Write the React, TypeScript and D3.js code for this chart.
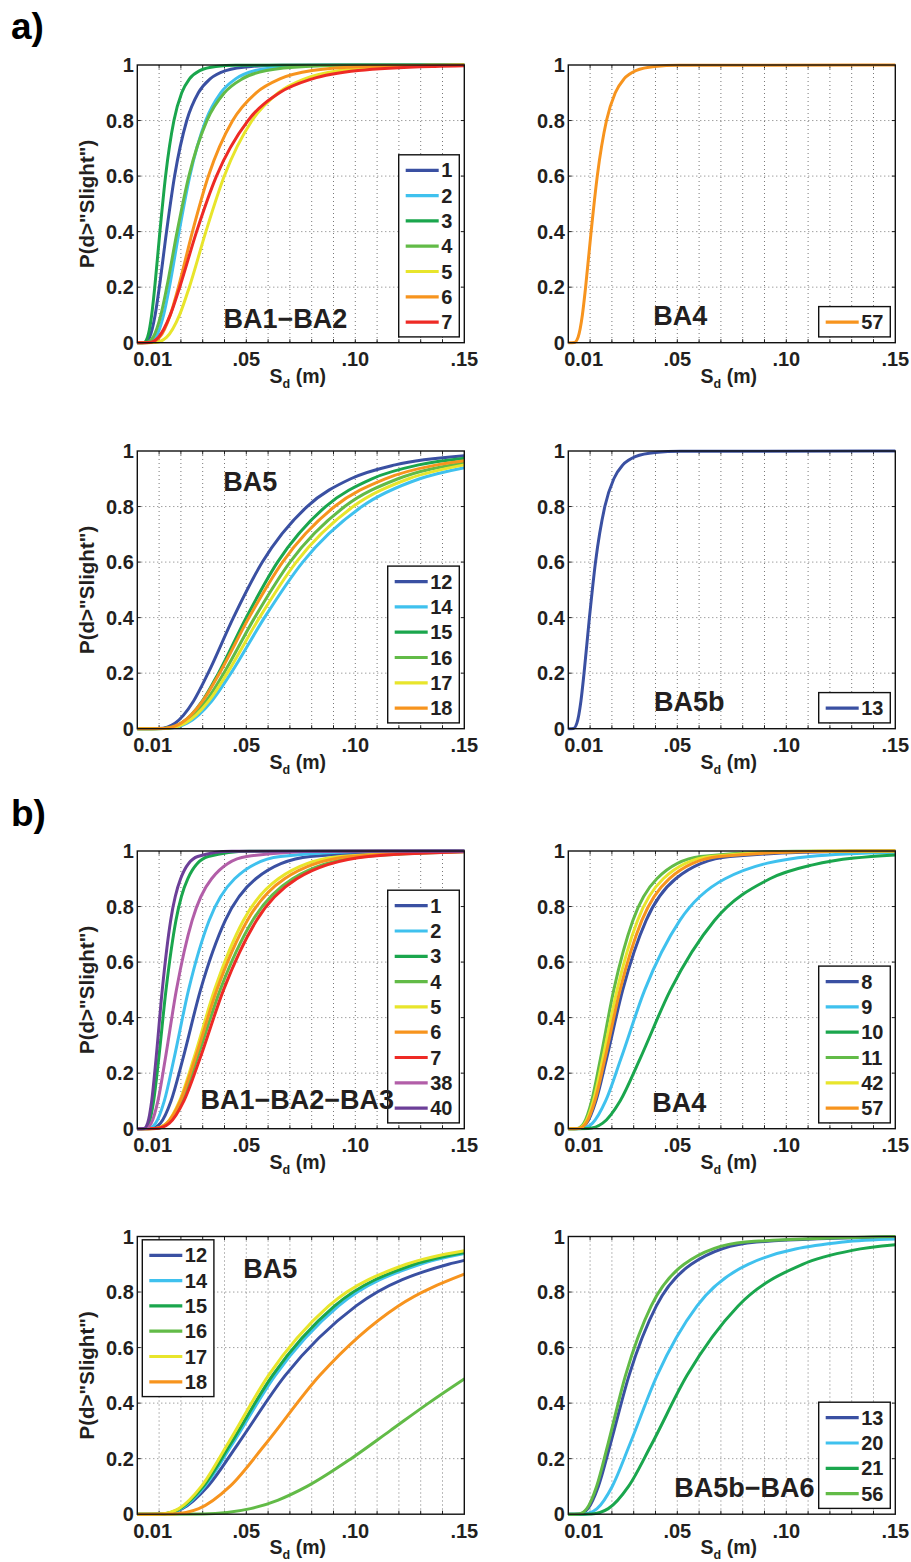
import React from "react";
import * as d3 from "d3";

type Pt = [number, number];

// ---------- colours by curve id ----------
const COLORS: Record<string, string> = {
  "1": "#3a50a2", "8": "#3a50a2", "12": "#3a50a2", "13": "#3a50a2",
  "2": "#3fc1ee", "9": "#3fc1ee", "14": "#3fc1ee", "20": "#3fc1ee",
  "3": "#1aa64d", "10": "#1aa64d", "15": "#1aa64d", "21": "#1aa64d",
  "4": "#62bb47", "11": "#62bb47", "16": "#62bb47", "56": "#62bb47",
  "5": "#e8e52b", "17": "#e8e52b", "42": "#e8e52b",
  "6": "#f7941e", "18": "#f7941e", "57": "#f7941e",
  "7": "#ee2a25",
  "38": "#b25ea8",
  "40": "#6c3f98",
};

// ---------- data (Sd [m], P) ----------
// a) BA1-BA2
const a1Ids = ["1", "2", "3", "4", "5", "6", "7"];
const a1Data: Pt[][] = [
  [[0, 0], [0.00344, 0.001], [0.00565, 0.02], [0.00819, 0.1], [0.01011, 0.2], [0.01341, 0.4], [0.01711, 0.6], [0.02269, 0.8], [0.02801, 0.9], [0.03337, 0.95], [0.0406, 0.98], [0.0522, 0.995], [0.0667, 0.999], [0.15, 1]],
  [[0, 0], [0.00535, 0.001], [0.00853, 0.02], [0.01207, 0.1], [0.01472, 0.2], [0.01918, 0.4], [0.02409, 0.6], [0.03139, 0.8], [0.03826, 0.9], [0.04506, 0.95], [0.05417, 0.98], [0.06851, 0.995], [0.08633, 0.999], [0.15, 1]],
  [[0, 0], [0.00298, 0.001], [0.0047, 0.02], [0.0066, 0.1], [0.00801, 0.2], [0.01037, 0.4], [0.01297, 0.6], [0.0168, 0.8], [0.02038, 0.9], [0.02392, 0.95], [0.02863, 0.98], [0.03603, 0.995], [0.04517, 0.999], [0.15, 1]],
  [[0, 0], [0.0043, 0.001], [0.00729, 0.02], [0.01081, 0.1], [0.01353, 0.2], [0.01827, 0.4], [0.02365, 0.6], [0.03193, 0.8], [0.03996, 0.9], [0.0481, 0.95], [0.05925, 0.98], [0.0773, 0.995], [0.1005, 0.999], [0.15, 1]],
  [[0, 0], [0.0083, 0.001], [0.01349, 0.02], [0.0194, 0.1], [0.02386, 0.2], [0.03146, 0.4], [0.03991, 0.6], [0.05264, 0.8], [0.06472, 0.9], [0.07677, 0.95], [0.09306, 0.98], [0.119, 0.995], [0.15, 0.999]],
  [[0, 0], [0.00613, 0.001], [0.01029, 0.02], [0.01513, 0.1], [0.01886, 0.2], [0.02531, 0.4], [0.03261, 0.6], [0.04375, 0.8], [0.05452, 0.9], [0.06538, 0.95], [0.08021, 0.98], [0.10414, 0.995], [0.13465, 0.999], [0.15, 1]],
  [[0, 0], [0.0054, 0.001], [0.00974, 0.02], [0.01513, 0.1], [0.01946, 0.2], [0.0272, 0.4], [0.03631, 0.6], [0.05078, 0.8], [0.06525, 0.9], [0.08026, 0.95], [0.10134, 0.98], [0.13643, 0.995], [0.15, 0.997]],
];

// a) BA4
const a2Ids = ["57"];
const a2Data: Pt[][] = [
  [[0, 0], [0.00276, 0.001], [0.00449, 0.02], [0.00646, 0.1], [0.00794, 0.2], [0.01047, 0.4], [0.01329, 0.6], [0.01752, 0.8], [0.02155, 0.9], [0.02556, 0.95], [0.03097, 0.98], [0.0396, 0.995], [0.0504, 0.999], [0.15, 1]],
];

// a) BA5
const a3Ids = ["12", "14", "15", "16", "17", "18"];
const a3Data: Pt[][] = [
  [[0, 0], [0.01008, 0.001], [0.01728, 0.02], [0.02583, 0.1], [0.03247, 0.2], [0.04408, 0.4], [0.05737, 0.6], [0.07789, 0.8], [0.09792, 0.9], [0.1183, 0.95], [0.15, 0.983]],
  [[0, 0], [0.01334, 0.001], [0.02287, 0.02], [0.03417, 0.1], [0.04296, 0.2], [0.05833, 0.4], [0.07588, 0.6], [0.10304, 0.8], [0.12955, 0.9], [0.15, 0.94]],
  [[0, 0], [0.01209, 0.001], [0.0203, 0.02], [0.02987, 0.1], [0.03723, 0.2], [0.04995, 0.4], [0.06434, 0.6], [0.08636, 0.8], [0.10762, 0.9], [0.1291, 0.95], [0.15, 0.974]],
  [[0, 0], [0.01231, 0.001], [0.02111, 0.02], [0.03155, 0.1], [0.03966, 0.2], [0.05384, 0.4], [0.07005, 0.6], [0.09513, 0.8], [0.1196, 0.9], [0.15, 0.957]],
  [[0, 0], [0.01282, 0.001], [0.02197, 0.02], [0.03283, 0.1], [0.04127, 0.2], [0.05604, 0.4], [0.07291, 0.6], [0.09903, 0.8], [0.12449, 0.9], [0.15, 0.95]],
  [[0, 0], [0.01171, 0.001], [0.02008, 0.02], [0.03001, 0.1], [0.03772, 0.2], [0.05122, 0.4], [0.06664, 0.6], [0.09049, 0.8], [0.11376, 0.9], [0.13742, 0.95], [0.15, 0.965]],
];

// a) BA5b
const a4Ids = ["13"];
const a4Data: Pt[][] = [
  [[0, 0], [0.00235, 0.001], [0.00394, 0.02], [0.0058, 0.1], [0.00722, 0.2], [0.00969, 0.4], [0.01248, 0.6], [0.01675, 0.8], [0.02088, 0.9], [0.02503, 0.95], [0.03072, 0.98], [0.03987, 0.995], [0.05156, 0.999], [0.15, 1]],
];

// b) BA1-BA2-BA3
const b1Ids = ["1", "2", "3", "4", "5", "6", "7", "38", "40"];
const b1Data: Pt[][] = [
  [[0, 0], [0.00638, 0.001], [0.0106, 0.02], [0.01548, 0.1], [0.02085, 0.25], [0.02901, 0.5], [0.04037, 0.75], [0.05436, 0.9], [0.07937, 0.98], [0.13187, 0.999], [0.15, 1]],
  [[0, 0], [0.00502, 0.001], [0.00842, 0.02], [0.01239, 0.1], [0.01678, 0.25], [0.02352, 0.5], [0.03295, 0.75], [0.04464, 0.9], [0.06568, 0.98], [0.11025, 0.999], [0.15, 1]],
  [[0, 0], [0.00338, 0.001], [0.00533, 0.02], [0.00749, 0.1], [0.00979, 0.25], [0.01317, 0.5], [0.01772, 0.75], [0.02314, 0.9], [0.03251, 0.98], [0.05128, 0.999], [0.15, 1]],
  [[0, 0], [0.00836, 0.001], [0.01389, 0.02], [0.02028, 0.1], [0.02731, 0.25], [0.03801, 0.5], [0.0529, 0.75], [0.07122, 0.9], [0.10399, 0.98], [0.15, 0.9975]],
  [[0, 0], [0.00829, 0.001], [0.01349, 0.02], [0.0194, 0.1], [0.02581, 0.25], [0.03544, 0.5], [0.04866, 0.75], [0.06472, 0.9], [0.09305, 0.98], [0.15, 0.999]],
  [[0, 0], [0.00829, 0.001], [0.01362, 0.02], [0.01974, 0.1], [0.02641, 0.25], [0.03651, 0.5], [0.05048, 0.75], [0.06755, 0.9], [0.09787, 0.98], [0.15, 0.9984]],
  [[0, 0], [0.00898, 0.001], [0.01476, 0.02], [0.02138, 0.1], [0.02862, 0.25], [0.03956, 0.5], [0.05468, 0.75], [0.07318, 0.9], [0.10602, 0.98], [0.15, 0.9973]],
  [[0, 0], [0.00383, 0.001], [0.00643, 0.02], [0.00946, 0.1], [0.01281, 0.25], [0.01795, 0.5], [0.02516, 0.75], [0.03407, 0.9], [0.05014, 0.98], [0.08417, 0.999], [0.15, 1]],
  [[0, 0], [0.00303, 0.001], [0.00473, 0.02], [0.0066, 0.1], [0.00857, 0.25], [0.01145, 0.5], [0.0153, 0.75], [0.01986, 0.9], [0.02769, 0.98], [0.04323, 0.999], [0.15, 1]],
];

// b) BA4
const b2Ids = ["8", "9", "10", "11", "42", "57"];
const b2Data: Pt[][] = [
  [[0, 0], [0.00485, 0.001], [0.00841, 0.02], [0.01266, 0.1], [0.01747, 0.25], [0.02497, 0.5], [0.0357, 0.75], [0.04925, 0.9], [0.07417, 0.98], [0.12843, 0.999], [0.15, 1]],
  [[0, 0], [0.00622, 0.001], [0.01111, 0.02], [0.01712, 0.1], [0.02405, 0.25], [0.03508, 0.5], [0.05118, 0.75], [0.07191, 0.9], [0.11082, 0.98], [0.15, 0.9953]],
  [[0, 0], [0.00912, 0.001], [0.01579, 0.02], [0.02377, 0.1], [0.03279, 0.25], [0.04689, 0.5], [0.06704, 0.75], [0.09248, 0.9], [0.11213, 0.95], [0.15, 0.9859]],
  [[0, 0], [0.00418, 0.001], [0.00717, 0.02], [0.01071, 0.1], [0.01469, 0.25], [0.02086, 0.5], [0.02962, 0.75], [0.04061, 0.9], [0.0607, 0.98], [0.10402, 0.999], [0.15, 1]],
  [[0, 0], [0.00449, 0.001], [0.00769, 0.02], [0.01149, 0.1], [0.01575, 0.25], [0.02237, 0.5], [0.03177, 0.75], [0.04356, 0.9], [0.0651, 0.98], [0.11157, 0.999], [0.15, 1]],
  [[0, 0], [0.00476, 0.001], [0.00816, 0.02], [0.0122, 0.1], [0.01673, 0.25], [0.02375, 0.5], [0.03373, 0.75], [0.04625, 0.9], [0.06912, 0.98], [0.11847, 0.999], [0.15, 1]],
];

// b) BA5
const b3Ids = ["12", "14", "15", "16", "17", "18"];
const b3Data: Pt[][] = [
  [[0, 0], [0.01131, 0.001], [0.02062, 0.02], [0.03228, 0.1], [0.0459, 0.25], [0.06788, 0.5], [0.10038, 0.75], [0.14275, 0.9], [0.15, 0.914]],
  [[0, 0], [0.01122, 0.001], [0.02004, 0.02], [0.03088, 0.1], [0.04339, 0.25], [0.06329, 0.5], [0.09234, 0.75], [0.12973, 0.9], [0.15, 0.9384]],
  [[0, 0], [0.01099, 0.001], [0.01964, 0.02], [0.03027, 0.1], [0.04253, 0.25], [0.06204, 0.5], [0.09051, 0.75], [0.12716, 0.9], [0.15, 0.9426]],
  [[0, 0], [0.03014, 0.001], [0.05192, 0.02], [0.06434, 0.05], [0.07786, 0.1], [0.09806, 0.2], [0.11588, 0.3], [0.1336, 0.4], [0.15, 0.487]],
  [[0, 0], [0.01067, 0.001], [0.01906, 0.02], [0.02937, 0.1], [0.04126, 0.25], [0.0602, 0.5], [0.08782, 0.75], [0.12338, 0.9], [0.15, 0.949]],
  [[0, 0], [0.01628, 0.001], [0.0282, 0.02], [0.04246, 0.1], [0.05857, 0.25], [0.08374, 0.5], [0.11974, 0.75], [0.15, 0.8643]],
];

// b) BA5b-BA6
const b4Ids = ["13", "20", "21", "56"];
const b4Data: Pt[][] = [
  [[0, 0], [0.0051, 0.001], [0.00901, 0.02], [0.01378, 0.1], [0.01923, 0.25], [0.02788, 0.5], [0.0404, 0.75], [0.05641, 0.9], [0.08627, 0.98], [0.15, 0.9989]],
  [[0, 0], [0.00745, 0.001], [0.01317, 0.02], [0.02014, 0.1], [0.02813, 0.25], [0.04076, 0.5], [0.05907, 0.75], [0.08249, 0.9], [0.12615, 0.98], [0.15, 0.991]],
  [[0, 0], [0.01059, 0.001], [0.01834, 0.02], [0.02762, 0.1], [0.0381, 0.25], [0.05448, 0.5], [0.07789, 0.75], [0.10745, 0.9], [0.13027, 0.95], [0.15, 0.97]],
  [[0, 0], [0.0048, 0.001], [0.00848, 0.02], [0.01297, 0.1], [0.01811, 0.25], [0.02625, 0.5], [0.03804, 0.75], [0.05312, 0.9], [0.08124, 0.98], [0.14363, 0.999], [0.15, 1]],
];

// ---------- axes ----------
const xGrid = [0.01, 0.02, 0.03, 0.04, 0.05, 0.06, 0.07, 0.08, 0.09, 0.1, 0.11, 0.12, 0.13, 0.14];
const xTickVals = [0.01, 0.05, 0.1, 0.15];
const xTickText = ["0.01", ".05", ".10", ".15"];
const yTickVals = [0, 0.2, 0.4, 0.6, 0.8, 1];
const yTickText = ["0", "0.2", "0.4", "0.6", "0.8", "1"];

// ---------- layout ----------
const PW = 327;
const PH = 277.7;
const FONT = "'Liberation Sans', Arial, Helvetica, sans-serif";
const INK = "#231f20";

type PanelCfg = {
  key: string; x: number; y: number; ids: string[]; data: Pt[][];
  title: string; tx: number; ty: number; legend: "br" | "tl"; lw: number; ylabel: boolean;
};

const panels: PanelCfg[] = [
  { key: "a1", x: 137.3, y: 65, ids: a1Ids, data: a1Data, title: "BA1\u2212BA2", tx: 148, ty: 263, legend: "br", lw: 60.6, ylabel: true },
  { key: "a2", x: 568.3, y: 65, ids: a2Ids, data: a2Data, title: "BA4", tx: 112, ty: 260, legend: "br", lw: 71.6, ylabel: false },
  { key: "a3", x: 137.3, y: 451, ids: a3Ids, data: a3Data, title: "BA5", tx: 113, ty: 39.7, legend: "br", lw: 71.6, ylabel: true },
  { key: "a4", x: 568.3, y: 451, ids: a4Ids, data: a4Data, title: "BA5b", tx: 121, ty: 259.7, legend: "br", lw: 71.6, ylabel: false },
  { key: "b1", x: 137.3, y: 851, ids: b1Ids, data: b1Data, title: "BA1\u2212BA2\u2212BA3", tx: 160, ty: 258.3, legend: "br", lw: 71.6, ylabel: true },
  { key: "b2", x: 568.3, y: 851, ids: b2Ids, data: b2Data, title: "BA4", tx: 111, ty: 260.7, legend: "br", lw: 71.6, ylabel: false },
  { key: "b3", x: 137.3, y: 1236.5, ids: b3Ids, data: b3Data, title: "BA5", tx: 133, ty: 41.5, legend: "tl", lw: 71.6, ylabel: true },
  { key: "b4", x: 568.3, y: 1236.5, ids: b4Ids, data: b4Data, title: "BA5b\u2212BA6", tx: 176, ty: 260.7, legend: "br", lw: 71.6, ylabel: false },
];

const xScale = d3.scaleLinear().domain([0, 0.15]).range([0, PW]);
const yScale = d3.scaleLinear().domain([0, 1]).range([PH, 0]);
const lineGen = d3
  .line<Pt>()
  .x((d) => xScale(d[0]))
  .y((d) => yScale(d[1]))
  .curve(d3.curveMonotoneX);

function Panel({ p }: { p: PanelCfg }) {
  const n = p.ids.length;
  const lh = n * 25.3 + 5;
  const lx = p.legend === "br" ? PW - 5 - p.lw : 5;
  const ly = p.legend === "br" ? PH - 5.8 - lh : 3.3;
  return (
    <g transform={`translate(${p.x},${p.y})`}>
      <rect x={0} y={0} width={PW} height={PH} fill="#fff" />
      {/* grid */}
      {xGrid.map((v) => (
        <line key={"gx" + v} x1={xScale(v)} x2={xScale(v)} y1={0} y2={PH}
          stroke="#555" strokeWidth={0.8} strokeDasharray="1 3" />
      ))}
      {yTickVals.slice(1, -1).map((v) => (
        <line key={"gy" + v} x1={0} x2={PW} y1={yScale(v)} y2={yScale(v)}
          stroke="#555" strokeWidth={0.8} strokeDasharray="1 3" />
      ))}
      {/* ticks */}
      {xGrid.map((v) => (
        <g key={"tx" + v}>
          <line x1={xScale(v)} x2={xScale(v)} y1={PH} y2={PH - 3.5} stroke="#222" strokeWidth={1} />
          <line x1={xScale(v)} x2={xScale(v)} y1={0} y2={3.5} stroke="#222" strokeWidth={1} />
        </g>
      ))}
      {yTickVals.slice(1, -1).map((v) => (
        <g key={"ty" + v}>
          <line x1={0} x2={3.5} y1={yScale(v)} y2={yScale(v)} stroke="#222" strokeWidth={1} />
          <line x1={PW} x2={PW - 3.5} y1={yScale(v)} y2={yScale(v)} stroke="#222" strokeWidth={1} />
        </g>
      ))}
      {/* curves */}
      <g clipPath={`url(#clip-${p.key})`}>
        {p.data.map((pts, i) => (
          <path key={p.ids[i]} d={lineGen(pts) || ""} fill="none"
            stroke={COLORS[p.ids[i]]} strokeWidth={3} strokeLinejoin="round" strokeLinecap="round" />
        ))}
      </g>
      {/* legend */}
      <g transform={`translate(${lx},${ly})`}>
        <rect x={0} y={0} width={p.lw} height={lh} fill="#fff" stroke="#111" strokeWidth={1.4} />
        {p.ids.map((id, i) => {
          const cy = 15.5 + i * 25.3;
          return (
            <g key={"lg" + id}>
              <line x1={7} x2={40} y1={cy} y2={cy} stroke={COLORS[id]} strokeWidth={3.2} />
              <text x={42.5} y={cy + 7.2} fontSize={20} fontWeight="bold" fill={INK}>{id}</text>
            </g>
          );
        })}
      </g>
      {/* panel title */}
      <text x={p.tx} y={p.ty} textAnchor="middle" fontSize={27} fontWeight="bold" fill={INK}>{p.title}</text>
      {/* frame */}
      <rect x={0} y={0} width={PW} height={PH} fill="none" stroke="#111" strokeWidth={1.4} />
      {/* tick labels */}
      {xTickVals.map((v, i) => (
        <text key={"xl" + v} x={xScale(v) + (i === 0 ? -6.5 : 0)} y={PH + 23.5} textAnchor="middle"
          fontSize={20} fontWeight="bold" fill={INK}>{xTickText[i]}</text>
      ))}
      {yTickVals.map((v, i) => (
        <text key={"yl" + v} x={-3.5} y={yScale(v) + 7.1} textAnchor="end"
          fontSize={20} fontWeight="bold" fill={INK}>{yTickText[i]}</text>
      ))}
      {/* x label */}
      <text x={PW / 2 - 3} y={PH + 40} textAnchor="middle" fontSize={19.5} fontWeight="bold" fill={INK}>
        S<tspan fontSize={12.5} dy={5}>d</tspan><tspan dy={-5}> (m)</tspan>
      </text>
      {p.ylabel && (
        <text transform={`translate(-43.3,${PH / 2}) rotate(-90)`} textAnchor="middle"
          fontSize={20.5} fontWeight="bold" fill={INK}>P(d&gt;"Slight")</text>
      )}
    </g>
  );
}

export default function App() {
  return (
    <svg width={911} height={1562} viewBox="0 0 911 1562"
      style={{ position: "absolute", left: 0, top: 0, background: "#fff" }}
      fontFamily={FONT}>
      <defs>
        {panels.map((p) => (
          <clipPath key={"c" + p.key} id={`clip-${p.key}`}>
            <rect x={0} y={-2} width={PW} height={PH + 4} />
          </clipPath>
        ))}
      </defs>
      <rect x={0} y={0} width={911} height={1562} fill="#fff" />
      <text x={11} y={39} fontSize={37} fontWeight="bold" fill="#000">a)</text>
      <text x={11} y={826} fontSize={37} fontWeight="bold" fill="#000">b)</text>
      {panels.map((p) => (
        <Panel key={p.key} p={p} />
      ))}
    </svg>
  );
}
